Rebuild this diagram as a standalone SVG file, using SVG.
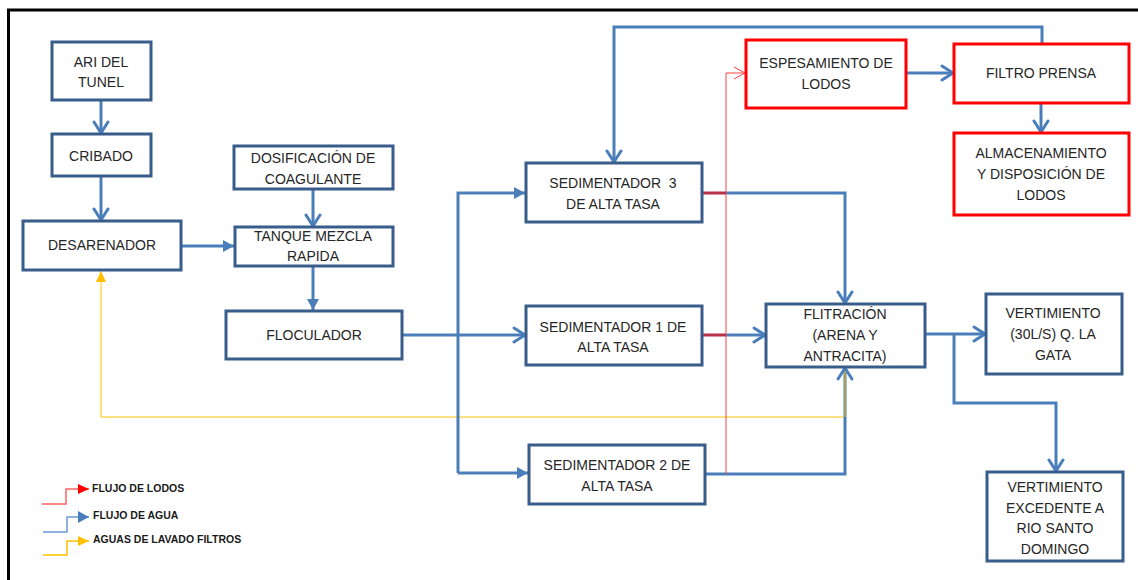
<svg xmlns="http://www.w3.org/2000/svg" width="1138" height="580" viewBox="0 0 1138 580">
<style>
.n{fill:#fff;stroke:#385D8A;stroke-width:3}
.r{fill:#fff;stroke:#FF0000;stroke-width:3}
text{font-family:"Liberation Sans",Arial,sans-serif;font-size:14px;fill:#262626;text-anchor:middle;dominant-baseline:central}
.lg{font-size:10.5px;font-weight:bold;text-anchor:start;fill:#1a1a1a}
.b{fill:none;stroke:#4A7EBB;stroke-width:3}
.rd{fill:none;stroke:#FF4040;stroke-width:1}
.rdt{fill:none;stroke:#B8324A;stroke-width:3}
.y{fill:none;stroke:#FFC000;stroke-width:1}
</style>
<defs>
<marker id="chev" markerUnits="userSpaceOnUse" markerWidth="18" markerHeight="18" viewBox="0 0 18 18" refX="15" refY="9" orient="auto"><path d="M4,2 L15,9 L4,16" fill="none" stroke="#4A7EBB" stroke-width="3" stroke-linecap="round" stroke-linejoin="round"/></marker>
<marker id="tri" markerUnits="userSpaceOnUse" markerWidth="12" markerHeight="12" viewBox="0 0 12 12" refX="11" refY="6" orient="auto"><path d="M0,0 L11,6 L0,12 Z" fill="#4A7EBB"/></marker>
<marker id="rchev" markerUnits="userSpaceOnUse" markerWidth="14" markerHeight="14" viewBox="0 0 14 14" refX="13" refY="7" orient="auto"><path d="M2,1 L13,7 L2,13" fill="none" stroke="#FF4040" stroke-width="1"/></marker>
<marker id="rtri" markerUnits="userSpaceOnUse" markerWidth="12" markerHeight="12" viewBox="0 0 12 12" refX="11" refY="6" orient="auto"><path d="M0,1 L11,6 L0,11 Z" fill="#FF0000"/></marker>
<marker id="ytri" markerUnits="userSpaceOnUse" markerWidth="12" markerHeight="12" viewBox="0 0 12 12" refX="11" refY="6" orient="auto"><path d="M0,1 L11,6 L0,11 Z" fill="#FFC000"/></marker>
</defs>
<rect width="1138" height="580" fill="#fff"/>
<path d="M8.5,585 V10 H1145" fill="none" stroke="#000" stroke-width="3"/>

<g id="connectors">
<path class="y" d="M845,417 H101 V271" marker-end="url(#ytri)"/>
<line class="b" x1="101" y1="100" x2="101" y2="133" marker-end="url(#chev)"/>
<line class="b" x1="101" y1="176" x2="101" y2="220" marker-end="url(#chev)"/>
<line class="b" x1="181" y1="246" x2="234" y2="246" marker-end="url(#tri)"/>
<line class="b" x1="313" y1="189" x2="313" y2="226" marker-end="url(#chev)"/>
<line class="b" x1="313" y1="266" x2="313" y2="310" marker-end="url(#tri)"/>
<line class="b" x1="402" y1="335" x2="525" y2="335" marker-end="url(#chev)"/>
<path class="b" d="M458,473 V193 H525" marker-end="url(#tri)"/>
<path class="b" d="M458,473 H528" marker-end="url(#tri)"/>
<path class="b" d="M726,193 H845 V303" marker-end="url(#chev)"/>
<line class="b" x1="726" y1="335" x2="765" y2="335" marker-end="url(#chev)"/>
<path class="b" d="M705,474 H845 V368" marker-end="url(#chev)"/>
<path class="y" d="M845,371 V417" stroke="#A0A060"/>
<path class="rd" d="M726,474 V73 H745" marker-end="url(#rchev)"/>
<line class="rdt" x1="703" y1="193" x2="726" y2="193"/>
<line class="rdt" x1="703" y1="335" x2="726" y2="335"/>
<path class="b" d="M1042,43 V27 H614 V162" marker-end="url(#chev)"/>
<line class="b" x1="906" y1="73" x2="953" y2="73" marker-end="url(#chev)"/>
<line class="b" x1="1041" y1="103" x2="1041" y2="132" marker-end="url(#chev)"/>
<line class="b" x1="925" y1="334" x2="985" y2="334" marker-end="url(#chev)"/>
<path class="b" d="M954,334 V403 H1056 V471" marker-end="url(#chev)"/>
</g>

<g id="ari"><rect class="n" x="52" y="42" width="99" height="58"/><text x="101" y="62">ARI DEL</text><text x="101" y="82">TUNEL</text></g>
<g id="cribado"><rect class="n" x="52" y="134" width="99" height="42"/><text x="101" y="156">CRIBADO</text></g>
<g id="desarenador"><rect class="n" x="23" y="221" width="158" height="49"/><text x="102" y="245">DESARENADOR</text></g>
<g id="dosificacion"><rect class="n" x="234" y="146" width="159" height="43"/><text x="313" y="158">DOSIFICACIÓN DE</text><text x="313" y="179">COAGULANTE</text></g>
<g id="tanque"><rect class="n" x="235" y="227" width="158" height="39"/><text x="313" y="236">TANQUE MEZCLA</text><text x="313" y="256">RAPIDA</text></g>
<g id="floculador"><rect class="n" x="226" y="311" width="176" height="48"/><text x="314" y="335">FLOCULADOR</text></g>
<g id="sed3"><rect class="n" x="526" y="163" width="176" height="59"/><text x="613" y="183" xml:space="preserve">SEDIMENTADOR  3</text><text x="613" y="204">DE ALTA TASA</text></g>
<g id="sed1"><rect class="n" x="526" y="306" width="176" height="59"/><text x="613" y="327">SEDIMENTADOR 1 DE</text><text x="613" y="347">ALTA TASA</text></g>
<g id="sed2"><rect class="n" x="529" y="445" width="176" height="59"/><text x="617" y="465">SEDIMENTADOR 2 DE</text><text x="617" y="486">ALTA TASA</text></g>
<g id="espesamiento"><rect class="r" x="746" y="40" width="160" height="68"/><text x="826" y="63">ESPESAMIENTO DE</text><text x="826" y="84">LODOS</text></g>
<g id="filtroprensa"><rect class="r" x="954" y="44" width="175" height="59"/><text x="1041" y="73">FILTRO PRENSA</text></g>
<g id="almacenamiento"><rect class="r" x="954" y="133" width="175" height="82"/><text x="1041" y="153">ALMACENAMIENTO</text><text x="1041" y="174">Y DISPOSICIÓN DE</text><text x="1041" y="195">LODOS</text></g>
<g id="filtracion"><rect class="n" x="766" y="304" width="159" height="63"/><text x="845" y="314">FLITRACIÓN</text><text x="845" y="335">(ARENA Y</text><text x="845" y="356">ANTRACITA)</text></g>
<g id="vertimiento1"><rect class="n" x="986" y="294" width="136" height="80"/><text x="1053" y="313">VERTIMIENTO</text><text x="1053" y="334">(30L/S) Q. LA</text><text x="1053" y="355">GATA</text></g>
<g id="vertimiento2"><rect class="n" x="987" y="472" width="136" height="89"/><text x="1055" y="487">VERTIMIENTO</text><text x="1055" y="508">EXCEDENTE A</text><text x="1055" y="528">RIO SANTO</text><text x="1055" y="549">DOMINGO</text></g>

<g id="legend">
<path d="M42,504 H66 V489 H89" fill="none" stroke="#FF6060" stroke-width="1.5" marker-end="url(#rtri)"/>
<text class="lg" x="92" y="488">FLUJO DE LODOS</text>
<path d="M43,532 H67 V517 H89" fill="none" stroke="#6A9AD8" stroke-width="1.5" marker-end="url(#tri)"/>
<text class="lg" x="93" y="515">FLUJO DE AGUA</text>
<path d="M43,555 H67 V541 H89" fill="none" stroke="#FFC000" stroke-width="1.5" marker-end="url(#ytri)"/>
<text class="lg" x="93" y="539">AGUAS DE LAVADO FILTROS</text>
</g>
</svg>
